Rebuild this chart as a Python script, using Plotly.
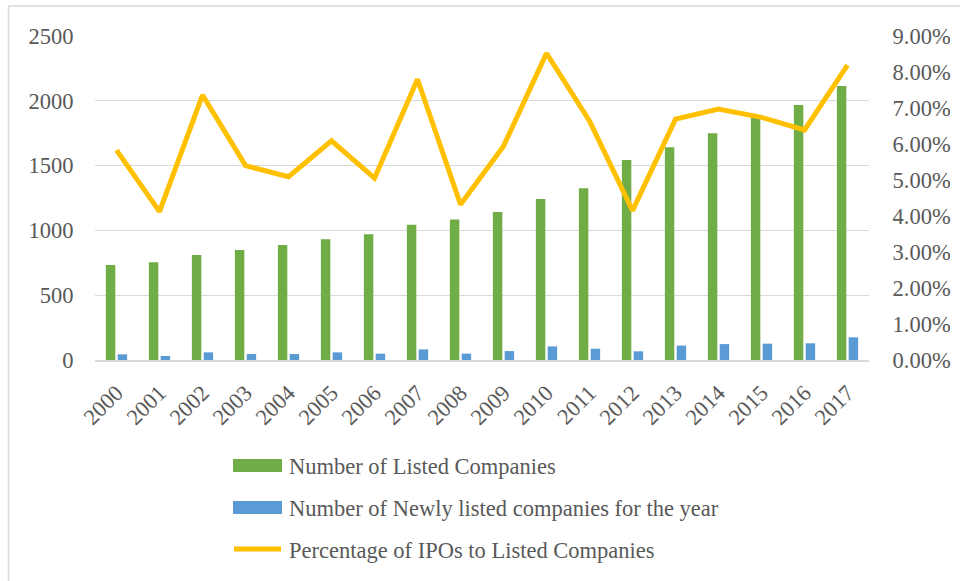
import plotly.graph_objects as go

years = [str(y) for y in range(2000, 2018)]
listed = [733, 754, 810, 849, 887, 931, 970, 1044, 1085, 1142, 1242, 1325, 1543, 1641, 1749, 1875, 1968, 2114]
new_listed = [44, 31, 59, 46, 46, 59, 49, 82, 49, 69, 105, 87, 67, 111, 123, 126, 129, 175]
ipo_pct = [5.83, 4.12, 7.36, 5.40, 5.09, 6.09, 5.05, 7.80, 4.32, 5.94, 8.52, 6.64, 4.15, 6.69, 6.97, 6.74, 6.39, 8.19]
ipo_pct = [v / 100 for v in ipo_pct]

left_ticks = [0, 500, 1000, 1500, 2000, 2500]
right_ticks = [i / 100 for i in range(0, 10)]

names = ["Number of Listed Companies",
         "Number of Newly listed companies for the year",
         "Percentage of IPOs to Listed Companies"]
colors = ["#70AD47", "#5B9BD5", "#FFC000"]

FONT = "Liberation Serif"
GRAY = "#595959"
FS = 22.5

fig = go.Figure()
fig.add_trace(go.Bar(x=years, y=listed, name=names[0],
                     marker=dict(color=colors[0], line=dict(width=0))))
fig.add_trace(go.Bar(x=years, y=new_listed, name=names[1],
                     marker=dict(color=colors[1], line=dict(width=0))))
fig.add_trace(go.Scatter(x=years, y=ipo_pct, name=names[2],
                         mode="lines", line=dict(color=colors[2], width=5), yaxis="y2"))

W, H = 960, 581
L, R, T, B = 95, 91, 36, 221
pw, ph = W - L - R, H - T - B

def px_x(p):
    return (p - L) / pw

def px_y(p):
    return (H - B - p) / ph

shapes = [
    dict(type="line", xref="paper", yref="paper", x0=px_x(8.5), x1=px_x(8.5),
         y0=px_y(6), y1=px_y(600), line=dict(color="#D9D9D9", width=1.5)),
    dict(type="line", xref="paper", yref="paper", x0=px_x(8.5), x1=px_x(980),
         y0=px_y(6), y1=px_y(6), line=dict(color="#D9D9D9", width=1.5)),
]
annotations = []
leg_y = [466, 508, 550]
for i, (nm, c, yy) in enumerate(zip(names, colors, leg_y)):
    if i < 2:
        shapes.append(dict(type="rect", xref="paper", yref="paper",
                           x0=px_x(233), x1=px_x(282), y0=px_y(yy - 7), y1=px_y(yy + 6),
                           fillcolor=c, line=dict(width=0)))
    else:
        shapes.append(dict(type="line", xref="paper", yref="paper",
                           x0=px_x(234), x1=px_x(281), y0=px_y(yy - 1), y1=px_y(yy - 1),
                           line=dict(color=c, width=5)))
    annotations.append(dict(text=nm, xref="paper", yref="paper", x=px_x(287), y=px_y(yy),
                            xanchor="left", yanchor="middle", showarrow=False,
                            font=dict(family=FONT, size=FS, color=GRAY)))

fig.update_layout(
    width=W, height=H,
    margin=dict(l=L, r=R, t=T, b=B, autoexpand=False),
    paper_bgcolor="white", plot_bgcolor="white",
    font=dict(family=FONT, size=FS, color=GRAY),
    showlegend=False,
    barmode="group", bargap=0.45, bargroupgap=0.2,
    xaxis=dict(type="category", tickangle=-45, showgrid=False, showline=True,
               linecolor="#D9D9D9", linewidth=1.5, ticks="outside", ticklen=9,
               tickcolor="rgba(0,0,0,0)", automargin=False,
               tickfont=dict(size=FS, color=GRAY)),
    yaxis=dict(range=[0, 2500], tickvals=left_ticks, showgrid=True, gridcolor="#D9D9D9",
               gridwidth=1.3, zeroline=False, showline=False, ticks="outside", ticklen=16,
               tickcolor="rgba(0,0,0,0)", automargin=False,
               tickfont=dict(size=FS, color=GRAY)),
    yaxis2=dict(range=[0, 0.09], tickvals=right_ticks, tickformat=".2%", overlaying="y",
                side="right", showgrid=False, zeroline=False, showline=False,
                ticks="outside", ticklen=18, tickcolor="rgba(0,0,0,0)", automargin=False,
                tickfont=dict(size=FS, color=GRAY)),
    shapes=shapes,
    annotations=annotations,
)

fig.write_html("out.html", config={"displayModeBar": False},
               post_script="document.body.style.margin='0';document.body.style.overflow='hidden';")
